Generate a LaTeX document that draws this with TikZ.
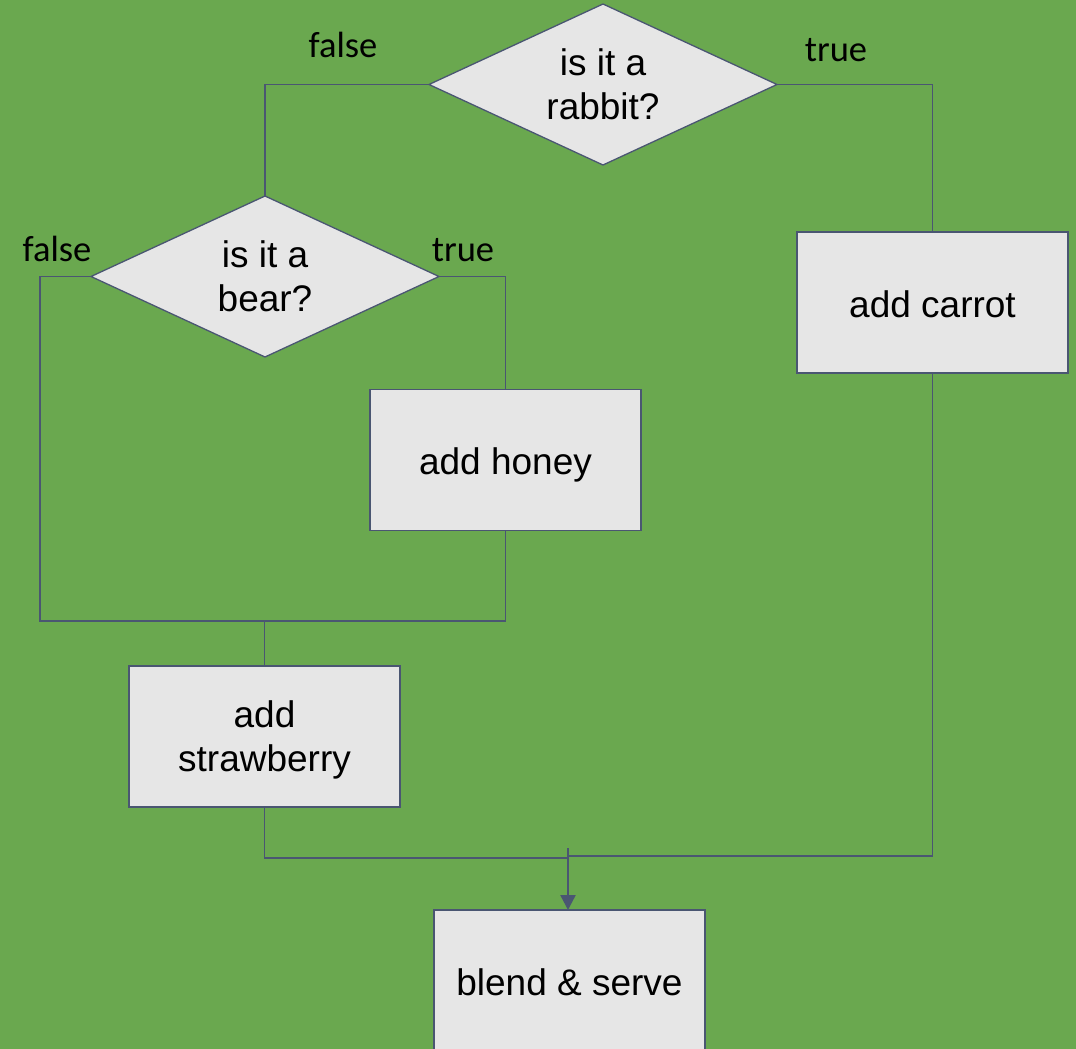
\documentclass[tikz,border=0pt]{standalone}
\usepackage{fontspec}
\setmainfont{Liberation Sans}
\newfontfamily\labelfont{Carlito}
\usetikzlibrary{shapes.geometric,arrows.meta}
\definecolor{bggreen}{HTML}{6AA84F}
\definecolor{boxfill}{HTML}{E6E6E6}
\definecolor{edge}{HTML}{4A5672}
\begin{document}
\begin{tikzpicture}[x=1pt,y=-1pt,
  every node/.style={inner sep=0pt, outer sep=0pt},
  txt/.style={font=\fontsize{37}{44}\selectfont, align=center, text=black},
  oneline/.style={text height=37pt, text depth=8pt},
  twoline/.style={text height=78pt, text depth=8pt},
  decision/.style={txt, twoline, diamond, draw=edge, fill=boxfill, line width=1.3pt,
    minimum width=348pt, minimum height=161pt, aspect=2.16},
  stepbox/.style={txt, rectangle, draw=edge, fill=boxfill, line width=1.3pt,
    minimum width=271pt, minimum height=141pt},
  wire/.style={draw=edge, line width=1.3pt},
  branch/.style={font=\labelfont\fontsize{36.5}{40}\selectfont, anchor=base, text=black}]
  % canvas
  \fill[bggreen] (0,0) rectangle (1076,1049);
  \useasboundingbox (0,0) rectangle (1076,1049);

  % junction points of the wiring
  \coordinate (ml) at (40,621);
  \coordinate (mr) at (505.5,621);
  \coordinate (jl) at (568,858);
  \coordinate (jr) at (568,856);
  \coordinate (a0) at (568,848);

  % decisions and steps
  \node[decision] (rabbit) at (603,84.5) {is it a\\rabbit?};
  \node[decision] (bear) at (265,276.5) {is it a\\bear?};
  \node[stepbox, oneline] (carrot) at (932.5,302.5) {add carrot};
  \node[stepbox, oneline] (honey) at (505.5,460) {add honey};
  \node[stepbox, twoline] (straw) at (264.5,736.5) {add\\strawberry};
  \node[stepbox, oneline] (blend) at (569.5,980.5) {blend \& serve};

  % branch labels
  \node[branch] (lf1) at (343,58) {false};
  \node[branch] (lt1) at (836,62) {true};
  \node[branch] (lf2) at (57,261) {false};
  \node[branch] (lt2) at (463,261) {true};

  % wiring
  \path[wire] (rabbit.west) -| (bear.north);
  \path[wire] (rabbit.east) -| (carrot.north);
  \path[wire] (bear.east) -| (honey.north);
  \path[wire] (bear.west) -| (ml) -- (mr) -- (honey.south);
  \path[wire] (straw.north) -- (straw.north |- ml);
  \path[wire] (straw.south) |- (jl);
  \path[wire] (carrot.south) |- (jr);
  \draw[edge, line width=2.4pt, -{Triangle[width=15pt,length=15pt]}] (a0) -- (a0 |- blend.north);
\end{tikzpicture}
\end{document}
